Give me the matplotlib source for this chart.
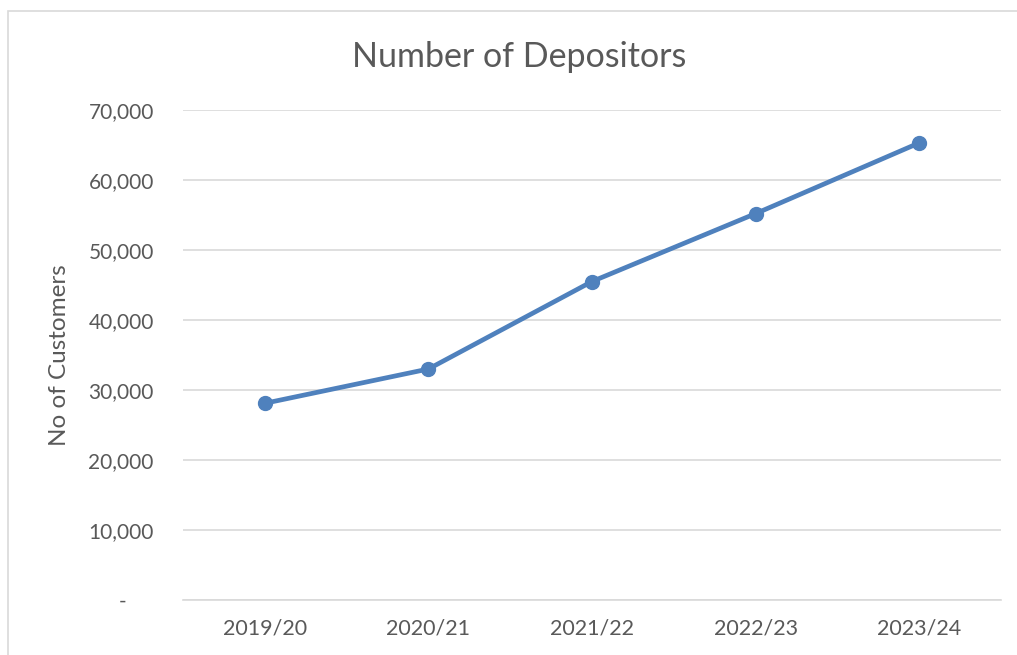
import matplotlib.pyplot as plt
from matplotlib.ticker import FuncFormatter
from matplotlib.patches import Rectangle

# yearly depositor counts
years = ['2019/20', '2020/21', '2021/22', '2022/23', '2023/24']
depositors = [28100, 33000, 45500, 55200, 65300]

text_col = '#595959'
line_col = '#4F81BD'
grid_col = '#D9D9D9'

plt.rcParams['font.family'] = ['Lato', 'DejaVu Sans']

fig = plt.figure(figsize=(10.17, 6.55), dpi=100)
ax = fig.add_axes([183 / 1017, 55 / 655, 818 / 1017, 490 / 655])

# chart area border
fig.patches.append(Rectangle((8 / 1017, -0.1), 1.2, 1 - 11 / 655 + 0.1,
                             transform=fig.transFigure, fill=False,
                             edgecolor='#D9D9D9', linewidth=1.2))

x = list(range(len(years)))
ax.plot(x, depositors, color=line_col, linewidth=3.4, marker='o',
        markersize=10, solid_capstyle='round', zorder=3)

ax.set_xlim(-0.5, len(years) - 0.5)
ax.set_ylim(0, 70000)
ax.set_yticks(range(0, 70001, 10000))
ax.yaxis.set_major_formatter(FuncFormatter(lambda v, p: '-     ' if v == 0 else f'{v:,.0f}'))
ax.set_xticks(x)
ax.set_xticklabels(years)

ax.grid(axis='y', color=grid_col, linewidth=1.2)
ax.set_axisbelow(True)
for s in ['top', 'right', 'left']:
    ax.spines[s].set_visible(False)
ax.spines['bottom'].set_color(grid_col)
ax.spines['bottom'].set_linewidth(1.2)

ax.tick_params(axis='y', length=0, pad=21, labelsize=15, labelcolor=text_col)
ax.tick_params(axis='x', length=0, pad=13, labelsize=15.5, labelcolor=text_col)

fig.text(60 / 1017, 1 - 355 / 655, 'No of Customers', rotation=90,
         ha='center', va='center', fontsize=17.5, color=text_col)
fig.text(519 / 1017, 1 - 57 / 655, 'Number of Depositors', ha='center',
         va='center', fontsize=24.5, color=text_col)

fig.savefig('out.png', dpi=100)
